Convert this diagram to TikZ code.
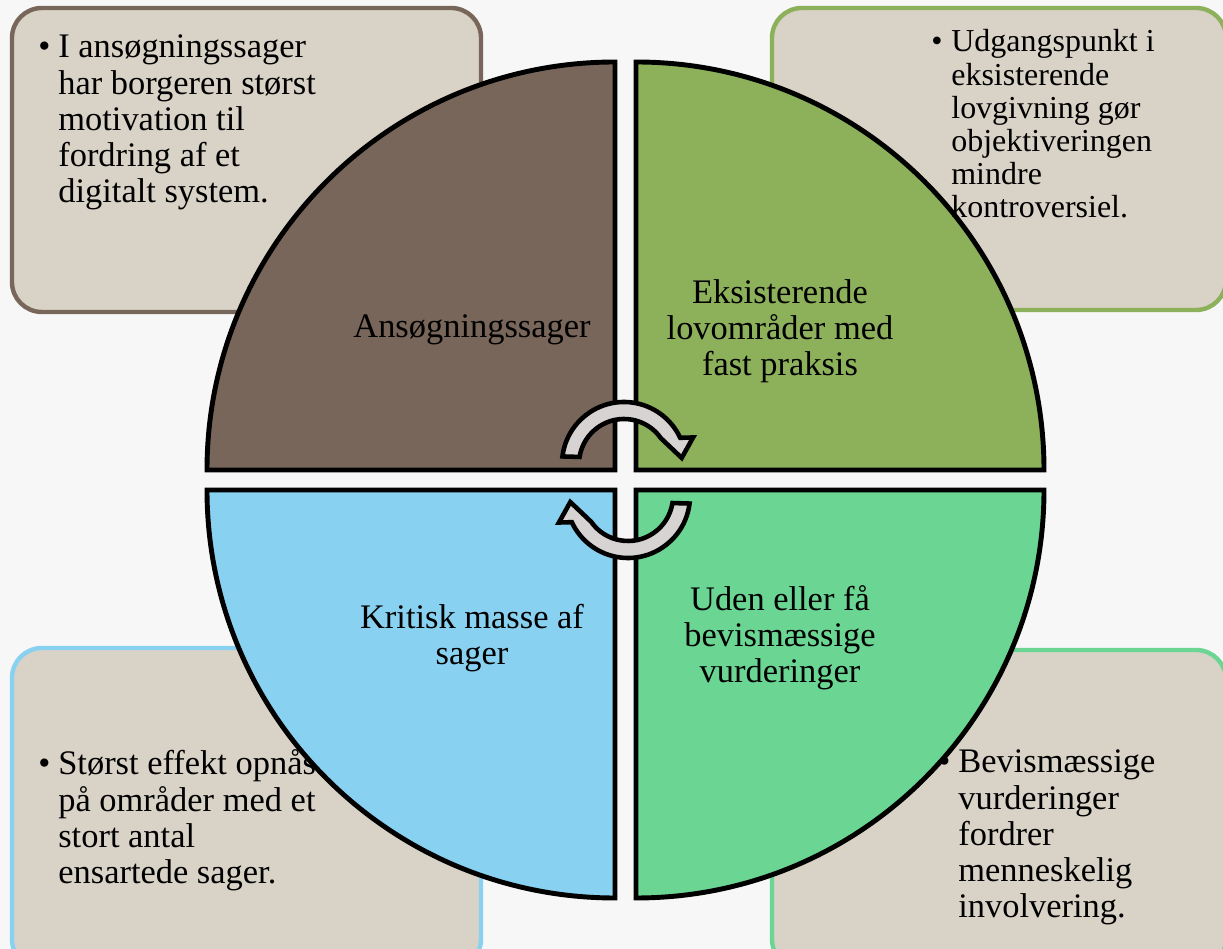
\documentclass[tikz,border=0pt]{standalone}
\usepackage{fontspec}
\setmainfont{Liberation Serif}

\definecolor{bggray}{HTML}{F7F7F7}
\definecolor{notefill}{HTML}{D9D3C7}
\definecolor{brownq}{HTML}{776659}
\definecolor{oliveq}{HTML}{8DB05B}
\definecolor{blueq}{HTML}{89D1F1}
\definecolor{greenq}{HTML}{6BD693}
\definecolor{turngray}{HTML}{D6D3D2}

\newcommand{\notelines}[1]{\makebox[0.4cm][l]{\textbullet}\begin{tabular}[t]{@{}l@{}}#1\end{tabular}}

\begin{document}
\begin{tikzpicture}[
  x=0.02cm, y=0.02cm,
  note/.style={fill=notefill, rounded corners=17pt, line width=2.5pt},
  quad/.style={draw=black, line width=2.8pt},
  quadtext/.style={align=center, inner sep=0pt, font=\fontsize{19.6}{20.5}\selectfont},
  notetext/.style={anchor=base west, inner sep=0pt, font=\fontsize{19.6}{20.5}\selectfont},
  turn/.style={fill=turngray, draw=black, line width=2.6pt},
]
  \fill[bggray] (0,0) rectangle (1223,949);
  \clip (0,0) rectangle (1223,949);

  % note boxes
  \draw[note, draw=brownq] (12,637) rectangle (481,941);
  \draw[note, draw=oliveq] (772,639) rectangle (1226,941);
  \draw[note, draw=blueq] (12,-20) rectangle (481,301);
  \draw[note, draw=greenq] (772,-20) rectangle (1226,299);

  \node[notetext] (nmass) at (38,174) {\notelines{Størst effekt opnås\\på områder med et\\stort antal\\ensartede sager.}};
  \node[notetext] (neval) at (938,176) {\notelines{Bevismæssige\\vurderinger\\fordrer\\menneskelig\\involvering.}};

  % quadrants
  \draw[quad, fill=brownq] (615,479) -- (615,887) arc[start angle=90, end angle=180, radius=408] -- cycle;
  \draw[quad, fill=oliveq] (636,479) -- (1044,479) arc[start angle=0, end angle=90, radius=408] -- cycle;
  \draw[quad, fill=blueq] (615,459) -- (207,459) arc[start angle=180, end angle=270, radius=408] -- cycle;
  \draw[quad, fill=greenq] (636,459) -- (636,51) arc[start angle=270, end angle=360, radius=408] -- cycle;

  \node[quadtext] (qapp) at (472,619) {Ansøgningssager};
  \node[quadtext] (qlaw) at (780,618) {Eksisterende\\lovområder med\\fast praksis};
  \node[quadtext] (qmass) at (472,311) {Kritisk masse af\\sager};
  \node[quadtext] (qeval) at (780,311) {Uden eller få\\bevismæssige\\vurderinger};

  \node[notetext] (napp) at (38,891) {\notelines{I ansøgningssager\\har borgeren størst\\motivation til\\fordring af et\\digitalt system.}};
  \node[notetext, font=\fontsize{18.2}{18.8}\selectfont] (nlaw) at (931,897) {\notelines{Udgangspunkt i\\eksisterende\\lovgivning gør\\objektiveringen\\mindre\\kontroversiel.}};

  % cycle arrows
  \begin{scope}[shift={(624,485)}]
    \draw[turn] (173:62) arc[start angle=173, end angle=25, radius=62] -- (21:74) -- (6:58) -- (35:45) arc[start angle=35, end angle=171, radius=45] -- cycle;
  \end{scope}
  \begin{scope}[shift={(628,453)}, rotate=180]
    \draw[turn] (173:62) arc[start angle=173, end angle=25, radius=62] -- (21:74) -- (6:58) -- (35:45) arc[start angle=35, end angle=171, radius=45] -- cycle;
  \end{scope}
\end{tikzpicture}
\end{document}
